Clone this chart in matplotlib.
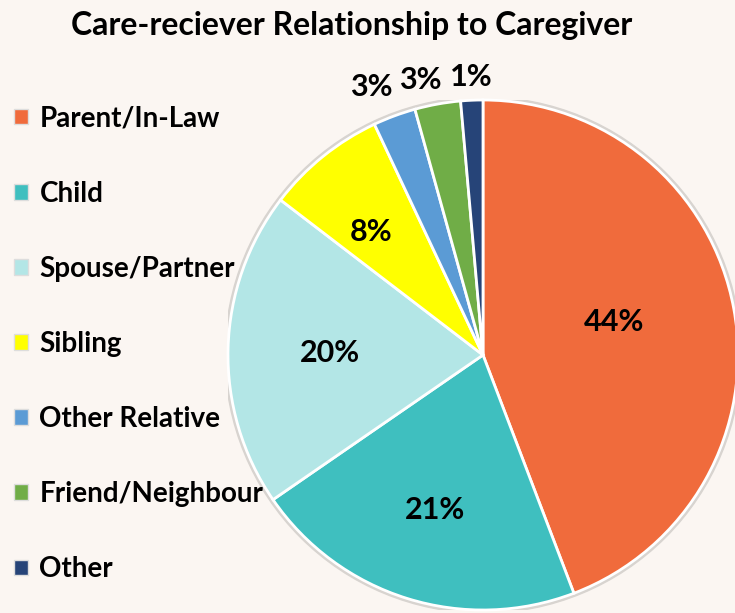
import matplotlib.pyplot as plt
import numpy as np
from matplotlib.patches import Patch

# care-receiver relationship shares
categories = ['Parent/In-Law', 'Child', 'Spouse/Partner', 'Sibling',
              'Other Relative', 'Friend/Neighbour', 'Other']
shares = [44.2, 21.2, 20.0, 7.6, 2.7, 2.9, 1.4]
colors = ['#F06B3C', '#3FBFBF', '#B3E6E6', '#FFFF00', '#5B9BD5', '#70AD47', '#264478']

plt.rcParams['font.family'] = ['Lato', 'DejaVu Sans']
bg = '#FBF6F2'

fig = plt.figure(figsize=(7.35, 6.13), dpi=100, facecolor=bg)
W, H = 735, 613
ax = fig.add_axes([228 / W, 3 / H, 510 / W, 510 / H])
ax.set_facecolor(bg)

# faint shadow ring behind the pie
ax.add_patch(plt.Circle((0, 0), 1.012, color='#d8d4d0', zorder=0))

wedges, _ = ax.pie(shares, colors=colors, startangle=90, counterclock=False,
                   radius=1.0, wedgeprops=dict(edgecolor='white', linewidth=2))

# percentage labels: distance from centre and small angle nudge per wedge
dists = [0.53, 0.635, 0.6, 0.65, 1.14, 1.105, 1.09]
nudge = [3.8, 0, 0.7, 3.4, 2.2, 2.7, 0]
for w, s, d, n in zip(wedges, shares, dists, nudge):
    ang = np.deg2rad((w.theta1 + w.theta2) / 2 + n)
    ax.text(d * np.cos(ang), d * np.sin(ang), f'{s:.0f}%', ha='center', va='center',
            fontsize=22, fontweight='bold', color='black')

ax.set_xlim(-1, 1)
ax.set_ylim(-1, 1)
ax.set_aspect('equal')
ax.axis('off')

fig.text(352 / W, 1 - 25 / H, 'Care-reciever Relationship to Caregiver', ha='center',
         va='center', fontsize=23, fontweight='bold')

handles = [Patch(facecolor=c, edgecolor='#dddddd', linewidth=1) for c in colors]
fig.legend(handles, categories, loc='upper left', bbox_to_anchor=(-5 / W, 1 - 86 / H),
           frameon=False, prop=dict(size=20, weight='bold'), handlelength=0.5,
           handleheight=0.5, handletextpad=0.4, labelspacing=1.77, borderpad=0.2)

fig.savefig('out.png', dpi=100, facecolor=bg)
